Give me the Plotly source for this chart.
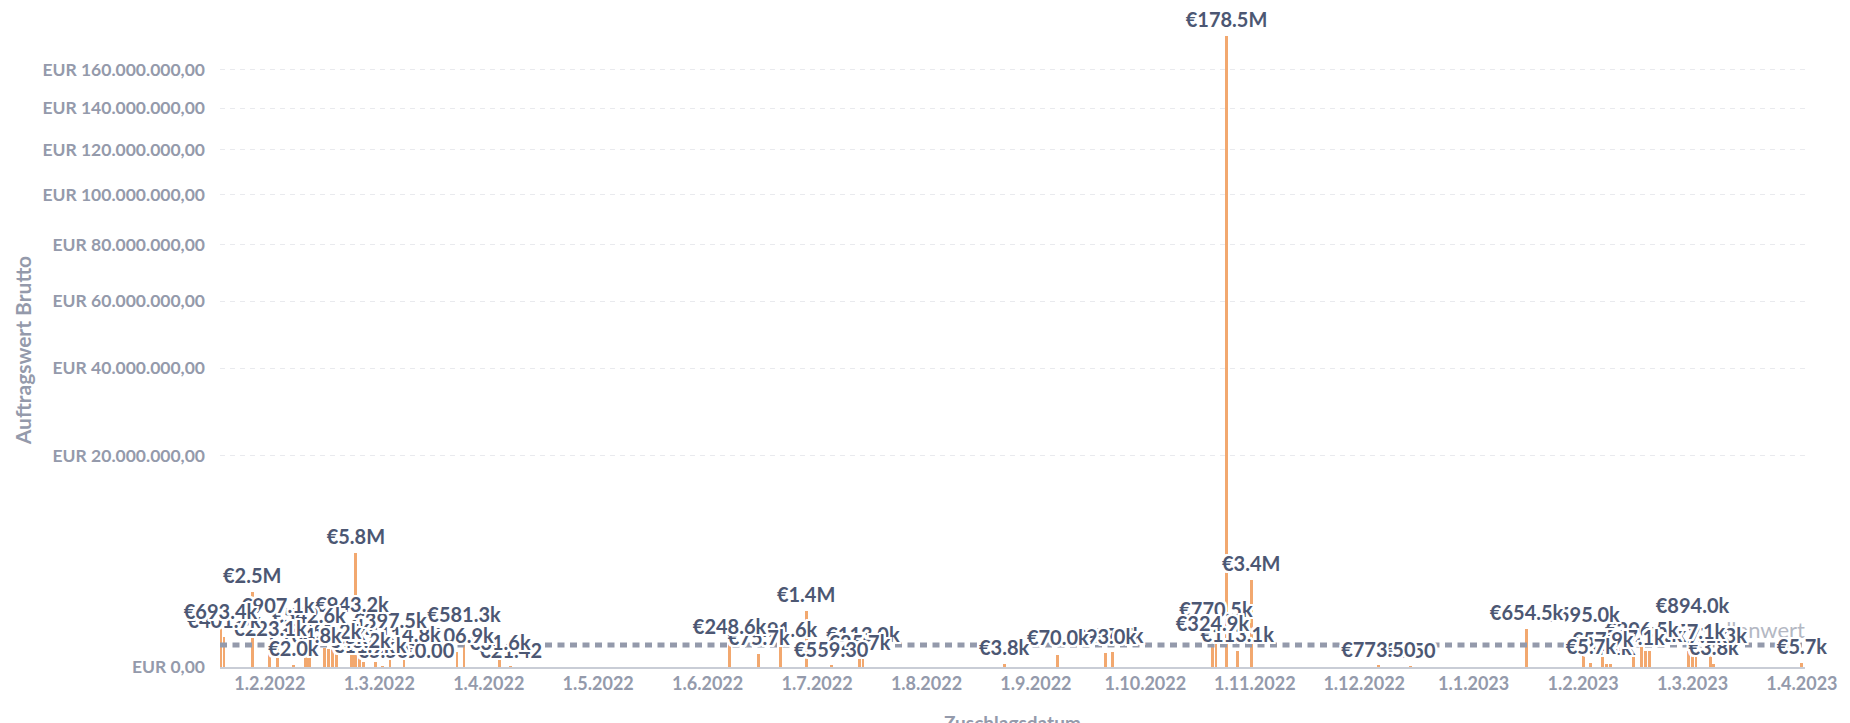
import calendar
import numpy as np
import plotly.graph_objects as go

# ---- data -------------------------------------------------------------
award_dates = [
    "2022-01-18", "2022-01-19", "2022-01-27", "2022-02-01", "2022-02-03",
    "2022-02-07", "2022-02-10", "2022-02-11", "2022-02-15", "2022-02-16",
    "2022-02-17", "2022-02-18", "2022-02-22", "2022-02-23", "2022-02-24",
    "2022-02-25", "2022-02-28", "2022-03-02", "2022-03-04", "2022-03-08",
    "2022-03-15", "2022-03-23", "2022-03-25", "2022-04-04", "2022-04-07",
    "2022-06-07", "2022-06-15", "2022-06-21", "2022-06-28", "2022-07-05",
    "2022-07-13", "2022-07-14", "2022-08-23", "2022-09-07", "2022-09-20",
    "2022-09-22", "2022-10-20", "2022-10-21", "2022-10-24", "2022-10-27",
    "2022-10-31", "2022-12-05", "2022-12-14", "2023-01-16", "2023-02-01",
    "2023-02-03", "2023-02-06", "2023-02-07", "2023-02-08", "2023-02-14",
    "2023-02-16", "2023-02-17", "2023-02-18", "2023-02-28", "2023-03-01",
    "2023-03-02", "2023-03-06", "2023-03-07", "2023-04-01",
]
award_values = [
    693400, 401700, 2500000, 223100, 907100,
    2000, 104800, 542600, 168200, 152400,
    236600, 87500, 943200, 5800000, 43200,
    11900, 11200, 5.50, 397500, 114800,
    0, 106900, 581300, 31600, 21.42,
    248600, 75700, 191600, 1400000, 559.30,
    25700, 113000, 3800, 70000, 93000,
    97700, 324900, 770500, 178500000, 113100,
    3400000, 773.50, 3.50, 654500, 595000,
    5700, 57900, 4100, 2900, 77100,
    206500, 117100, 108400, 157100, 894000,
    97100, 101300, 3800, 5700,
]
threshold_value = 215000
threshold_label = "Schwellenwert"

y_tick_values = [0, 20e6, 40e6, 60e6, 80e6, 100e6, 120e6, 140e6, 160e6]
y_tick_labels = [
    "EUR 0,00", "EUR 20.000.000,00", "EUR 40.000.000,00", "EUR 60.000.000,00",
    "EUR 80.000.000,00", "EUR 100.000.000,00", "EUR 120.000.000,00",
    "EUR 140.000.000,00", "EUR 160.000.000,00",
]
x_tick_dates = [
    "2022-02-01", "2022-03-01", "2022-04-01", "2022-05-01", "2022-06-01",
    "2022-07-01", "2022-08-01", "2022-09-01", "2022-10-01", "2022-11-01",
    "2022-12-01", "2023-01-01", "2023-02-01", "2023-03-01", "2023-04-01",
]
x_tick_labels = [
    "1.2.2022", "1.3.2022", "1.4.2022", "1.5.2022", "1.6.2022", "1.7.2022",
    "1.8.2022", "1.9.2022", "1.10.2022", "1.11.2022", "1.12.2022",
    "1.1.2023", "1.2.2023", "1.3.2023", "1.4.2023",
]
y_axis_title = "Auftragswert Brutto"
x_axis_title = "Zuschlagsdatum"


# month-based time scale (each calendar month takes the same width)
def month_pos(s):
    y, m, d = (int(p) for p in s[:10].split("-"))
    return (y - 2022) * 12 + (m - 1) + (d - 1) / calendar.monthrange(y, m)[1]


def day_width(s):
    y, m, _ = (int(p) for p in s[:10].split("-"))
    return 0.8 / calendar.monthrange(y, m)[1]


def fmt(v):
    if v >= 1e6:
        return f"€{v / 1e6:.1f}M"
    if v >= 1e3:
        return f"€{v / 1e3:.1f}k"
    return f"€{v:.2f}"


x_pos = [month_pos(d) for d in award_dates]
bar_w = [day_width(d) for d in award_dates]
x_range = [0.544, 15.028]
Y_TOP = 13702
y_sqrt = np.sqrt(np.array(award_values, dtype=float))   # square-root scale
labels = [fmt(v) for v in award_values]
LABEL_LIFT = 85      # ~4 px in sqrt-units
GOAL_LIFT = 40

BAR = "#F2A86F"
DARK = "#4C5773"
GREY = "#949AAB"
FONT = "Lato"

halo = ", ".join(
    f"{dx}px {dy}px 0 #ffffff"
    for dx, dy in [(-2, 0), (2, 0), (0, -2), (0, 2), (-2, -2), (2, -2), (-2, 2), (2, 2),
                   (-1, -2), (1, -2), (-1, 2), (1, 2), (-2, -1), (2, -1), (-2, 1), (2, 1)]
)

fig = go.Figure()
fig.add_trace(go.Bar(
    x=x_pos, y=y_sqrt, width=bar_w,
    marker=dict(color=BAR, line=dict(width=0)),
    hoverinfo="skip", showlegend=False,
))
fig.add_trace(go.Scatter(
    x=x_range, y=[np.sqrt(threshold_value)] * 2,
    mode="lines", line=dict(color=GREY, width=5, dash="7px,5.5px"),
    hoverinfo="skip", showlegend=False, cliponaxis=False,
))
fig.add_trace(go.Scatter(
    x=[x_range[1]], y=[np.sqrt(threshold_value) + GOAL_LIFT],
    mode="text", text=[threshold_label], textposition="top left",
    textfont=dict(family=FONT, size=22, color="#B4B8C3"),
    hoverinfo="skip", showlegend=False, cliponaxis=False,
))
# labels drawn last-to-first so that earlier dates sit on top
fig.add_trace(go.Scatter(
    x=x_pos[::-1], y=(y_sqrt + LABEL_LIFT)[::-1],
    mode="text", text=labels[::-1], textposition="top center",
    textfont=dict(family=FONT, size=20, color=DARK, weight=700, shadow=halo),
    hoverinfo="skip", showlegend=False, cliponaxis=False,
))

for xe in x_range:
    fig.add_shape(type="line", xref="x", yref="y", x0=xe, x1=xe,
                  ysizemode="pixel", yanchor=0, y0=0, y1=-8,
                  line=dict(color="#C9CDD6", width=1.5))

fig.add_annotation(
    text=y_axis_title, xref="paper", yref="paper", x=0, y=0.488,
    xshift=-198, xanchor="center", yanchor="middle", textangle=-90,
    showarrow=False, font=dict(family=FONT, size=21, color=GREY, weight=700),
)
fig.add_annotation(
    text=x_axis_title, xref="paper", yref="paper", x=0.5, y=0,
    yshift=-42, xanchor="center", yanchor="top",
    showarrow=False, font=dict(family=FONT, size=19, color=GREY, weight=700),
)

fig.update_layout(
    width=1850, height=723,
    margin=dict(l=220, r=42, t=20, b=56),
    paper_bgcolor="white", plot_bgcolor="white",
    bargap=0, showlegend=False,
    font=dict(family=FONT, color=GREY),
)
fig.update_xaxes(
    range=x_range,
    tickvals=[month_pos(d) for d in x_tick_dates], ticktext=x_tick_labels,
    showgrid=False, zeroline=False,
    showline=True, linecolor="#C9CDD6", linewidth=1.5,
    ticks="", tickfont=dict(family=FONT, size=18, color=GREY, weight=700),
)
fig.update_yaxes(
    range=[0, Y_TOP],
    tickvals=np.sqrt(y_tick_values), ticktext=y_tick_labels,
    showgrid=True, gridcolor="#E9EAEE", gridwidth=1, griddash="5px,5px",
    zeroline=False, showline=False, ticks="",
    ticklabelstandoff=14,
    tickfont=dict(family=FONT, size=17.5, color=GREY, weight=700),
)

fig.write_html(
    "out.html",
    config={"displayModeBar": False},
    post_script="document.body.style.margin='0';document.body.style.padding='0';",
)
